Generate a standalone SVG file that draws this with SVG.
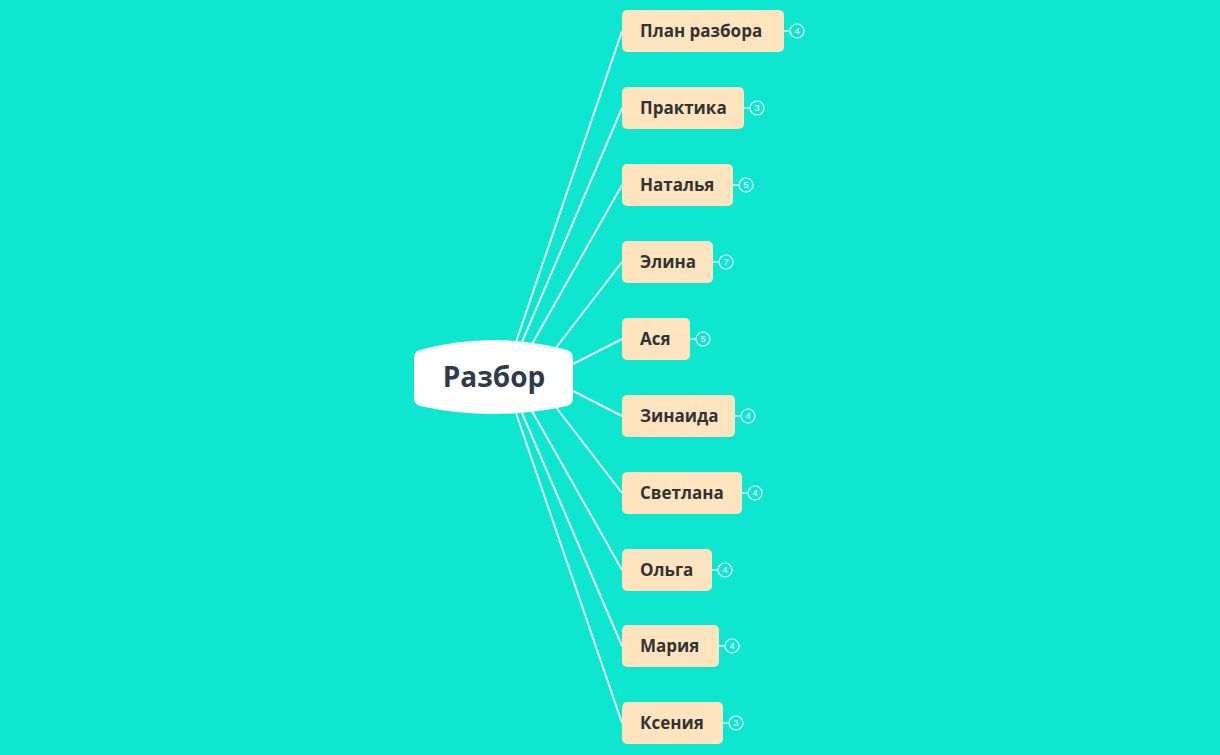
<svg xmlns="http://www.w3.org/2000/svg" width="1220" height="755" viewBox="0 0 1220 755">
<style>
.c{stroke:#e6eef0;stroke-width:2;fill:none}
.n{fill:#ffe5bf}
.t{font-family:"Open Sans","Noto Sans",sans-serif;font-weight:bold;font-size:17px;fill:#333333}
.b{fill:none;stroke:#ffffff;stroke-width:1.2}
.bt{font-family:"Liberation Sans",sans-serif;font-size:9px;fill:#ffffff;text-anchor:middle}
</style>
<rect width="1220" height="755" fill="#0ee6d0"/>
<g id="connectors">
<path class="c" d="M516 342 L622 31"/>
<path class="c" d="M522 342 L622 108"/>
<path class="c" d="M532 344 L622 185"/>
<path class="c" d="M555 349 L622 262"/>
<path class="c" d="M573 364 L622 339"/>
<path class="c" d="M573 391 L622 416"/>
<path class="c" d="M555 406 L622 493"/>
<path class="c" d="M532 411 L622 570"/>
<path class="c" d="M522 413 L622 646"/>
<path class="c" d="M516 413 L622 723"/>
</g>
<g id="root">
<path d="M414 358 Q414 352 420 350 Q493 330 567 350 Q573 352 573 358 L573 398 Q573 404 567 406 Q493 422 420 406 Q414 404 414 398 Z" fill="#ffffff"/>
<text x="494" y="387" text-anchor="middle" font-family="'Open Sans','Noto Sans',sans-serif" font-weight="bold" font-size="28" fill="#2f3a4a">Разбор</text>
</g>
<g id="n1"><rect class="n" x="622" y="10" width="162" height="42" rx="5"/><text class="t" x="640" y="37">План разбора</text><path class="b" d="M784 31h6"/><circle class="b" cx="797" cy="31" r="7"/><text class="bt" x="797" y="34">4</text></g>
<g id="n2"><rect class="n" x="622" y="87" width="122" height="42" rx="5"/><text class="t" x="640" y="114">Практика</text><path class="b" d="M744 108h6"/><circle class="b" cx="757" cy="108" r="7"/><text class="bt" x="757" y="111">3</text></g>
<g id="n3"><rect class="n" x="622" y="164" width="111" height="42" rx="5"/><text class="t" x="640" y="191">Наталья</text><path class="b" d="M733 185h6"/><circle class="b" cx="746" cy="185" r="7"/><text class="bt" x="746" y="188">5</text></g>
<g id="n4"><rect class="n" x="622" y="241" width="91" height="42" rx="5"/><text class="t" x="640" y="268">Элина</text><path class="b" d="M713 262h6"/><circle class="b" cx="726" cy="262" r="7"/><text class="bt" x="726" y="265">7</text></g>
<g id="n5"><rect class="n" x="622" y="318" width="68" height="42" rx="5"/><text class="t" x="640" y="345">Ася</text><path class="b" d="M690 339h6"/><circle class="b" cx="703" cy="339" r="7"/><text class="bt" x="703" y="342">5</text></g>
<g id="n6"><rect class="n" x="622" y="395" width="113" height="42" rx="5"/><text class="t" x="640" y="422">Зинаида</text><path class="b" d="M735 416h6"/><circle class="b" cx="748" cy="416" r="7"/><text class="bt" x="748" y="419">4</text></g>
<g id="n7"><rect class="n" x="622" y="472" width="120" height="42" rx="5"/><text class="t" x="640" y="499">Светлана</text><path class="b" d="M742 493h6"/><circle class="b" cx="755" cy="493" r="7"/><text class="bt" x="755" y="496">4</text></g>
<g id="n8"><rect class="n" x="622" y="549" width="90" height="42" rx="5"/><text class="t" x="640" y="576">Ольга</text><path class="b" d="M712 570h6"/><circle class="b" cx="725" cy="570" r="7"/><text class="bt" x="725" y="573">4</text></g>
<g id="n9"><rect class="n" x="622" y="625" width="97" height="42" rx="5"/><text class="t" x="640" y="652">Мария</text><path class="b" d="M719 646h6"/><circle class="b" cx="732" cy="646" r="7"/><text class="bt" x="732" y="649">4</text></g>
<g id="n10"><rect class="n" x="622" y="702" width="101" height="42" rx="5"/><text class="t" x="640" y="729">Ксения</text><path class="b" d="M723 723h6"/><circle class="b" cx="736" cy="723" r="7"/><text class="bt" x="736" y="726">3</text></g>
</svg>
